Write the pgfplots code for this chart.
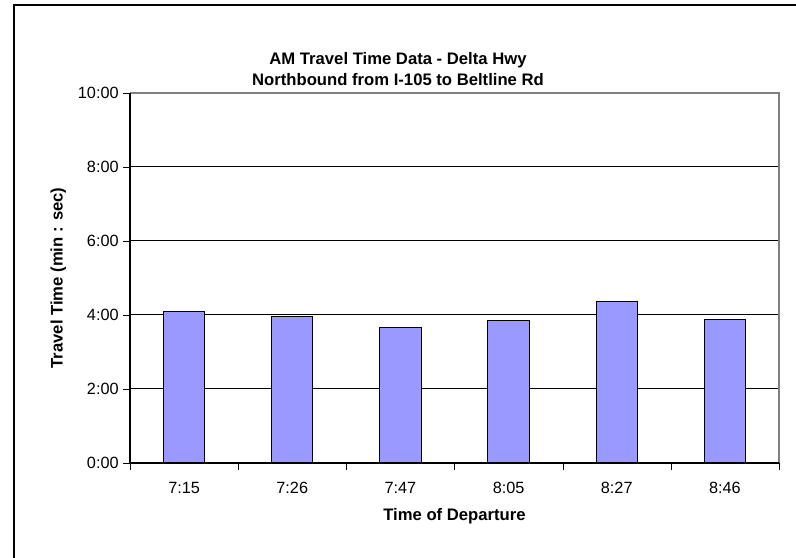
\documentclass[border=0pt]{standalone}
\usepackage{pgfplots}
\pgfplotsset{compat=1.18}
\usepackage{fontspec}
\setmainfont{Liberation Sans}
\definecolor{barblue}{RGB}{153,153,255}
\begin{document}
\begin{tikzpicture}
\useasboundingbox (0pt,0pt) rectangle (597pt,417.75pt);
\draw[black,line width=1pt] (10.5pt,-4pt) -- (10.5pt,414pt) -- (600pt,414pt);
\node[font=\bfseries\fontsize{12.5}{16}\selectfont,align=center] at (298.5pt,366pt) {AM Travel Time Data - Delta Hwy\\Northbound from I-105 to Beltline Rd};
\begin{axis}[
  at={(97.5pt,70.5pt)}, anchor=south west,
  scale only axis, width=486.75pt, height=277.5pt,
  xmin=0, xmax=6, ymin=0, ymax=10,
  axis line style={draw=none},
  xtick pos=bottom, ytick pos=left,
  xtick={0.5,1.5,2.5,3.5,4.5,5.5},
  xticklabels={7:15,7:26,7:47,8:05,8:27,8:46},
  minor xtick={0,1,2,3,4,5,6},
  major x tick style={draw=none},
  minor x tick style={black},
  ytick={0,2,4,6,8,10},
  yticklabels={0:00,2:00,4:00,6:00,8:00,10:00},
  y tick style={black},
  tick align=outside, major tick length=5pt, minor tick length=5pt,
  ymajorgrids, grid style={black, line width=0.75pt},
  tick label style={font=\fontsize{12.2}{14}\selectfont},
  xticklabel style={yshift=-6pt},
  xlabel={\bfseries Time of Departure},
  ylabel={\bfseries Travel Time (min : sec)},
  label style={font=\bfseries\fontsize{12.5}{15}\selectfont},
  xlabel style={yshift=-4pt},
  ylabel style={yshift=2pt},
  ybar, bar width=31pt,
  clip=false,
]
\addplot[fill=barblue, draw=black, line width=0.75pt] coordinates {
(0.5,4.09) (1.5,3.97) (2.5,3.66) (3.5,3.84) (4.5,4.37) (5.5,3.88)};
\draw[gray, line width=1pt] (rel axis cs:0,1) -- (rel axis cs:1,1) -- (rel axis cs:1,0);
\draw[black, line width=1pt] (rel axis cs:0,1) -- (rel axis cs:0,0) -- (rel axis cs:1,0);
\end{axis}
\end{tikzpicture}
\end{document}
